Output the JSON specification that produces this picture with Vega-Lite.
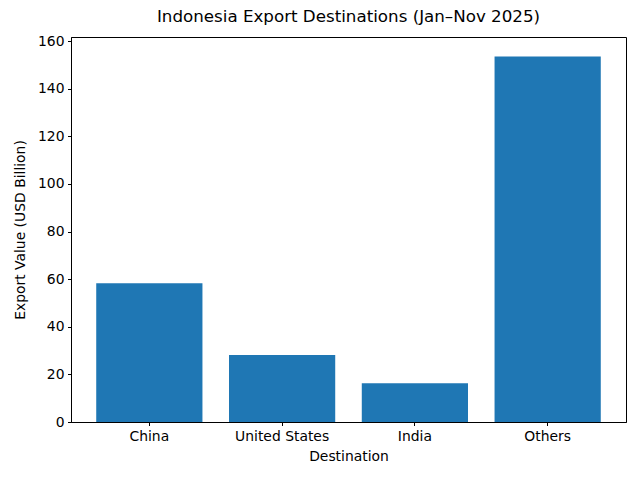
{
  "$schema": "https://vega.github.io/schema/vega-lite/v6.json",
  "width": 555,
  "height": 385,
  "autosize": {"type": "none"},
  "padding": {"left": 71, "top": 37, "right": 14, "bottom": 58},
  "background": "white",
  "title": {
    "text": "Indonesia Export Destinations (Jan–Nov 2025)",
    "font": "DejaVu Sans",
    "fontSize": 16.7,
    "fontWeight": "normal",
    "color": "black",
    "anchor": "middle",
    "offset": 8
  },
  "config": {
    "view": {"stroke": "black", "strokeWidth": 1},
    "axis": {
      "labelFont": "DejaVu Sans",
      "labelFontSize": 13.9,
      "labelColor": "black",
      "titleFont": "DejaVu Sans",
      "titleFontSize": 13.9,
      "titleFontWeight": "normal",
      "titleColor": "black",
      "tickColor": "black",
      "tickSize": 3.5,
      "domainColor": "black",
      "grid": false,
      "labelPadding": 3.5
    }
  },
  "data": {
    "values": [
      {"destination": "China", "value": 58.3},
      {"destination": "United States", "value": 28.1},
      {"destination": "India", "value": 16.3},
      {"destination": "Others", "value": 153.5}
    ]
  },
  "mark": {"type": "bar", "color": "#1f77b4"},
  "encoding": {
    "x": {
      "field": "destination",
      "type": "nominal",
      "sort": null,
      "title": "Destination",
      "scale": {"paddingInner": 0.2, "paddingOuter": 0.19},
      "axis": {"labelAngle": 0, "titlePadding": 7}
    },
    "y": {
      "field": "value",
      "type": "quantitative",
      "title": "Export Value (USD Billion)",
      "scale": {"domain": [0, 161.7], "nice": false},
      "axis": {"values": [0, 20, 40, 60, 80, 100, 120, 140, 160], "titlePadding": 10}
    }
  }
}
